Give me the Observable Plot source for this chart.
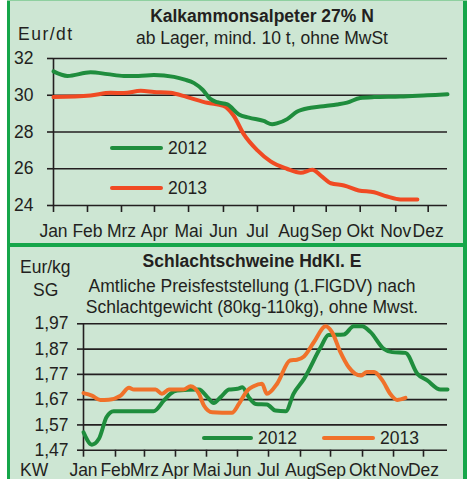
<!DOCTYPE html>
<html>
<head>
<meta charset="utf-8">
<script src="https://cdn.jsdelivr.net/npm/d3@7"></script>
<script src="https://cdn.jsdelivr.net/npm/@observablehq/plot@0.6"></script>
<style>
  html, body { margin: 0; padding: 0; background: #ffffff; }
  #wrap { position: relative; width: 467px; height: 479px; overflow: hidden; background: #ffffff;
          font-family: "Liberation Sans", Arial, sans-serif; color: #231f20; }
  .abs { position: absolute; }
  .lbl { position: absolute; line-height: 1; white-space: nowrap; }
  .leg { position: absolute; height: 4px; border-radius: 2px; }
</style>
</head>
<body>
<div id="wrap"></div>
<script>
// ---------- data ----------
const months = ["Jan","Feb","Mrz","Apr","Mai","Jun","Jul","Aug","Sep","Okt","Nov","Dez"];

// Kalkammonsalpeter (Eur/dt), x = Kalenderwoche
const kasTickWeeks = [1, 5.4, 9.8, 14.07, 18.48, 23.0, 27.4, 32.1, 36.3, 40.7, 45.3, 49.5];
const kasYTicks = [24, 26, 28, 30, 32];
const kas2012Weeks = [1, 2.8, 5.8, 8, 10.1, 12, 14, 16.6, 18, 19.2, 20.3, 21.3, 22.2, 23.5, 25.0, 26.3, 28.2, 29.3, 30.0, 31.25, 32.5, 34.3, 36.2, 37.7, 39.0, 40.7, 42.5, 45.9, 49.4, 52];
const kas2012 = [31.3, 31.05, 31.25, 31.15, 31.05, 31.05, 31.1, 31.0, 30.85, 30.66, 30.3, 29.8, 29.62, 29.5, 28.95, 28.78, 28.6, 28.42, 28.48, 28.7, 29.1, 29.32, 29.42, 29.5, 29.6, 29.85, 29.9, 29.93, 30.0, 30.05];
const kas2013Weeks = [1, 5.8, 8.4, 10.1, 12.3, 14.0, 16.1, 18.3, 20.9, 23.0, 24.3, 25.6, 27.4, 29.1, 31.2, 33.0, 34.5, 35.6, 36.9, 38.6, 40.5, 42.5, 44.2, 45.9, 48.1];
const kas2013 = [29.9, 29.99, 30.13, 30.12, 30.24, 30.18, 30.13, 29.9, 29.59, 29.42, 28.9, 27.9, 27.0, 26.4, 26.0, 25.78, 25.94, 25.63, 25.21, 25.09, 24.82, 24.72, 24.49, 24.33, 24.33];

// Schlachtschweine HdKl. E (Eur/kg SG)
const pigTickWeeks = [1, 5.57, 9.71, 14.14, 18.57, 23.0, 27.43, 32.0, 36.29, 40.86, 45.29, 49.57];
const pigYTicks = [1.47, 1.57, 1.67, 1.77, 1.87, 1.97];
const pig2012Weeks = [1, 2.2, 3.2, 4.3, 5.3, 11.0, 12.5, 13.4, 14.4, 17.5, 18.7, 19.6, 20.6, 21.8, 23.0, 23.7, 24.6, 25.6, 27.2, 28.4, 29.9, 31.0, 32.5, 34.9, 36.0, 38.2, 39.6, 40.8, 42.0, 43.9, 45.1, 47.0, 48.7, 50.1, 52.0, 53];
const pig2012 = [1.541, 1.492, 1.515, 1.601, 1.624, 1.624, 1.667, 1.693, 1.706, 1.71, 1.68, 1.657, 1.68, 1.71, 1.713, 1.719, 1.68, 1.653, 1.651, 1.627, 1.624, 1.693, 1.752, 1.878, 1.926, 1.928, 1.96, 1.96, 1.937, 1.871, 1.858, 1.855, 1.772, 1.746, 1.71, 1.71];
const pig2013Weeks = [1, 2.2, 3.4, 4.6, 6.3, 7.5, 8.2, 11.3, 12.2, 13.2, 15.3, 16.3, 17.5, 18.2, 19.4, 22.2, 23.2, 24.4, 25.3, 26.5, 27.2, 28.7, 30.5, 31.5, 32.5, 33.9, 35.6, 36.5, 37.7, 38.9, 40.6, 41.5, 42.5, 43.7, 44.9, 45.8, 47.0];
const pig2013 = [1.696, 1.686, 1.669, 1.67, 1.686, 1.717, 1.71, 1.71, 1.693, 1.71, 1.71, 1.723, 1.693, 1.647, 1.62, 1.618, 1.653, 1.706, 1.723, 1.733, 1.693, 1.735, 1.825, 1.828, 1.841, 1.897, 1.96, 1.937, 1.858, 1.798, 1.765, 1.779, 1.779, 1.746, 1.69, 1.669, 1.677];

// ---------- styles ----------
const BG = "#cde6d3", BORDER = "#16a64a", INK = "#231f20";
const C2012 = "#1f8d3d", C2013top = "#f04a23", C2013bot = "#f0712a";
const FONT = '"Liberation Sans", Arial, sans-serif';

const wrap = document.getElementById("wrap");
function box(css) { const d = document.createElement("div"); d.className = "abs"; Object.assign(d.style, css); wrap.appendChild(d); return d; }
function label(text, x, base, size, opt = {}) {
  const d = document.createElement("div");
  d.className = "lbl";
  d.textContent = text;
  d.style.fontSize = size + "px";
  d.style.top = (base - 0.8465 * size) + "px";
  d.style.left = x + "px";
  if (opt.bold) d.style.fontWeight = "bold";
  if (opt.ls) d.style.letterSpacing = opt.ls + "px";
  if (opt.anchor === "middle") d.style.transform = "translateX(-50%)";
  if (opt.anchor === "end") d.style.transform = "translateX(-100%)";
  wrap.appendChild(d);
  return d;
}
function legLine(x, y, w, color) { const d = document.createElement("div"); d.className = "leg"; Object.assign(d.style, {left: x + "px", top: (y - 2) + "px", width: w + "px", background: color}); wrap.appendChild(d); }

// panel background and borders
box({left: "10px", top: "0px", width: "453px", height: "479px", background: BG});
box({left: "7px", top: "0px", width: "3px", height: "479px", background: BORDER});
box({left: "463px", top: "0px", width: "4px", height: "479px", background: BORDER});
box({left: "7px", top: "0px", width: "460px", height: "1px", background: "#8fd0a0"});
box({left: "7px", top: "243px", width: "460px", height: "4px", background: BORDER});

// ---------- top chart ----------
const kasData = [
  ...kas2012.map((v, i) => ({w: kas2012Weeks[i], v, s: "2012"})),
  ...kas2013.map((v, i) => ({w: kas2013Weeks[i], v, s: "2013"}))
];
const topChart = Plot.plot({
  width: 467, height: 243,
  marginLeft: 53, marginRight: 20, marginTop: 58, marginBottom: 38,
  x: {domain: [1, 52]},
  y: {domain: [24, 32]},
  style: {background: "transparent", fontFamily: FONT, fontSize: "17.5px", color: INK, overflow: "visible"},
  marks: [
    Plot.ruleY(kasYTicks, {stroke: INK, strokeWidth: 1.6}),
    Plot.ruleX([1], {stroke: INK, strokeWidth: 1.6}),
    Plot.axisY({ticks: kasYTicks, tickSize: 6, tickPadding: 14, label: null, strokeWidth: 1.6}),
    Plot.axisX({ticks: kasTickWeeks, tickFormat: d => months[kasTickWeeks.indexOf(d)], tickSize: 7, tickPadding: 12, label: null, strokeWidth: 1.6}),
    Plot.line(kasData.filter(d => d.s === "2013"), {x: "w", y: "v", stroke: C2013top, strokeWidth: 4, curve: "monotone-x"}),
    Plot.line(kasData.filter(d => d.s === "2012"), {x: "w", y: "v", stroke: C2012, strokeWidth: 4, curve: "monotone-x"})
  ]
});
topChart.style.position = "absolute"; topChart.style.left = "0px"; topChart.style.top = "0px";
wrap.appendChild(topChart);

label("Kalkammonsalpeter 27% N", 262, 22.7, 17.5, {bold: true, anchor: "middle"});
label("ab Lager, mind. 10 t, ohne MwSt", 262, 45, 17.5, {anchor: "middle"});
label("Eur/dt", 18, 40.7, 17.5, {ls: 1.5});
legLine(110, 148, 53, C2012); label("2012", 168, 154.5, 17.5);
legLine(110, 188, 53, C2013top); label("2013", 168, 194.5, 17.5);

// ---------- bottom chart ----------
const pigData = [
  ...pig2012.map((v, i) => ({w: pig2012Weeks[i], v, s: "2012"})),
  ...pig2013.map((v, i) => ({w: pig2013Weeks[i], v, s: "2013"}))
];
const botChart = Plot.plot({
  width: 467, height: 232,
  marginLeft: 83, marginRight: 20, marginTop: 76.3, marginBottom: 29.3,
  x: {domain: [1, 53]},
  y: {domain: [1.47, 1.97]},
  style: {background: "transparent", fontFamily: FONT, fontSize: "17.5px", color: INK, overflow: "visible"},
  marks: [
    Plot.ruleY(pigYTicks, {stroke: INK, strokeWidth: 1.6}),
    Plot.ruleX([1], {stroke: INK, strokeWidth: 1.6}),
    Plot.axisY({ticks: pigYTicks, tickFormat: d => d.toFixed(2).replace(".", ","), tickSize: 6, tickPadding: 9, label: null, strokeWidth: 1.6}),
    Plot.axisX({ticks: pigTickWeeks, tickFormat: d => months[pigTickWeeks.indexOf(d)], tickSize: 7, tickPadding: 6, label: null, strokeWidth: 1.6}),
    Plot.line(pigData.filter(d => d.s === "2012"), {x: "w", y: "v", stroke: C2012, strokeWidth: 4, curve: "monotone-x"}),
    Plot.line(pigData.filter(d => d.s === "2013"), {x: "w", y: "v", stroke: C2013bot, strokeWidth: 4, curve: "monotone-x"})
  ]
});
botChart.style.position = "absolute"; botChart.style.left = "0px"; botChart.style.top = "247px";
wrap.appendChild(botChart);

label("Schlachtschweine HdKl. E", 252, 268, 17.5, {bold: true, anchor: "middle"});
label("Eur/kg", 20, 273.5, 17.5);
label("SG", 33, 297, 17.5);
label("Amtliche Preisfeststellung (1.FlGDV) nach", 252, 293.3, 17.5, {anchor: "middle"});
label("Schlachtgewicht (80kg-110kg), ohne Mwst.", 252, 314, 17.5, {anchor: "middle"});
label("KW", 20, 477, 17.5);
legLine(202, 438, 51, C2012); label("2012", 258, 444.5, 17.5);
legLine(322, 438, 53, C2013bot); label("2013", 380, 444.5, 17.5);
</script>
</body>
</html>
